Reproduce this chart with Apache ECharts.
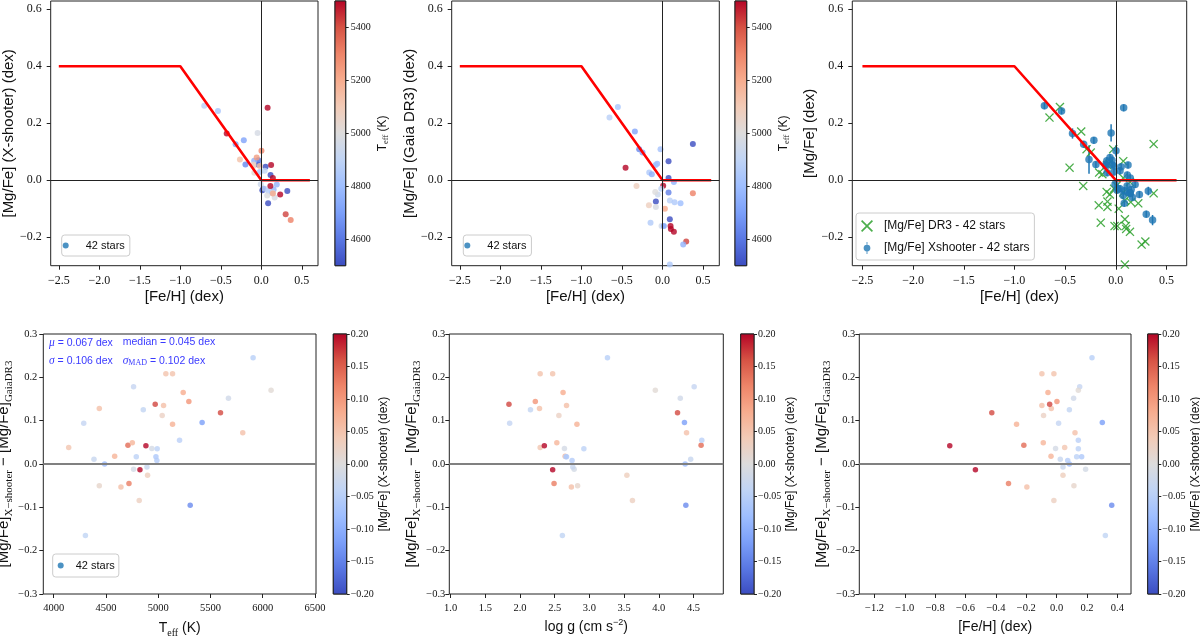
<!DOCTYPE html>
<html>
<head>
<meta charset="utf-8">
<script src="https://cdn.jsdelivr.net/npm/echarts@6/dist/echarts.min.js"></script>
<style>
html, body { margin: 0; padding: 0; background: #fff; }
#chart { width: 1200px; height: 638px; }
</style>
</head>
<body>
<div id="chart"></div>
<script>
// ---- values ----
// chemical-evolution trend drawn in red
const trendFeh = [-2.5, -1.0, 0.0, 0.6];
const trendMg = [0.4, 0.4, 0.0, 0.0];

// per star, X-shooter side (last star has no Gaia DR3 comparison)
const starTeff = [4143, 4287, 4303, 4385, 4436, 4436, 4487, 4583, 4643, 4710, 4720, 4752, 4764, 4764, 4790, 4818, 4825, 4857, 4882, 4892, 4898,
    4939, 4971, 4978, 4987, 4990, 5038, 5051, 5073, 5137, 5137, 5204, 5239, 5293, 5306, 5420, 5596, 5672, 5809, 5908, 6080, 5550];
const starLogg = [2.29, 1.85, 2.61, 4.46, 2.28, 2.83, 4.38, 2.65, 2.74, 4.61, 2.49, 2.53, 4.51, 2.78, 2.66, 3.62, 2.47, 2.15, 2.35, 2.76, 3.54,
    2.64, 1.84, 2.67, 2.75, 2.92, 2.56, 2.67, 2.29, 2.47, 2.82, 4.62, 2.62, 2.22, 4.39, 4.37, 4.27, 4.31, 4.40, 3.26, 3.95, null];
const starFeh = [0.053, 0.013, 0.321, 0.024, -0.035, 0.114, 0.084, -0.037, -0.196, -0.216, -0.317, -0.088, 0.152, 0.191, 0.132, -0.018, -0.535,
    0.084, -0.704, 0.042, 0.042, -0.007, -0.046, 0.165, 0.073, 0.143, -0.086, -0.097, -0.097, -0.018, -0.264, 0.143, -0.057, 0.002, 0.363,
    0.301, -0.427, 0.112, 0.121, 0.233, 0.143, 0.078];
const starMgFe = [0.047, -0.035, -0.038, -0.030, 0.054, 0.018, -0.081, 0.070, 0.055, 0.140, 0.126, 0.068, -0.033, -0.015, -0.044, 0.029, 0.243,
    -0.037, 0.261, -0.030, 0.033, -0.014, 0.166, -0.061, -0.054, -0.044, 0.026, 0.055, 0.050, 0.050, 0.073, -0.047, 0.080, 0.103, -0.140,
    -0.119, 0.164, -0.020, 0.053, -0.050, 0.008, 0.254];
const starErr = [0.012, 0.012, 0.015, 0.012, 0.012, 0.012, 0.012, 0.012, 0.012, 0.012, 0.012, 0.012, 0.012, 0.012, 0.012, 0.012, 0.012,
    0.012, 0.012, 0.012, 0.012, 0.012, 0.030, 0.012, 0.012, 0.012, 0.012, 0.012, 0.012, 0.012, 0.050, 0.012, 0.012, 0.020, 0.018,
    0.012, 0.018, 0.012, 0.012, 0.012, 0.012, 0.012];
// [Mg/Fe] X-shooter - [Mg/Fe] Gaia DR3
const starDiff = [0.038, 0.094, -0.165, 0.011, 0.128, -0.050, 0.000, 0.018, -0.053, 0.043, -0.045, 0.049, 0.178, -0.012, 0.017, -0.084, -0.013,
    0.125, 0.042, -0.007, -0.026, 0.036, 0.138, 0.017, 0.008, 0.035, 0.112, 0.135, 0.208, 0.208, 0.092, 0.055, 0.165, 0.144, -0.095,
    0.096, 0.118, 0.152, 0.072, 0.245, 0.170, null];

// Gaia DR3 side (top middle panel)
const dr3Feh = [-0.654, -0.551, -0.341, -0.288, -0.247, -0.456, -0.025, -0.066, -0.086, -0.164, -0.132, 0.074, 0.074, 0.374, 0.008, 0.140,
    -0.321, -0.016, -0.058, -0.090, 0.074, -0.082, 0.090, 0.148, 0.222, -0.168, -0.082, 0.029, 0.374, -0.148, -0.012, 0.016, 0.090,
    0.099, 0.103, 0.140, 0.292, 0.255, 0.090];
const dr3Mg = [0.220, 0.257, 0.171, 0.109, 0.097, 0.044, 0.109, 0.058, 0.053, 0.027, 0.021, 0.067, 0.008, 0.127, -0.019, -0.006, -0.020,
    -0.030, -0.050, -0.041, -0.043, -0.075, -0.071, -0.077, -0.081, -0.088, -0.094, -0.100, -0.046, -0.149, -0.161, -0.161, -0.137,
    -0.161, -0.171, -0.181, -0.215, -0.226, -0.296];
const dr3Teff = [4880, 4830, 4720, 4640, 4710, 5600, 4820, 4780, 4800, 4850, 4750, 4436, 4143, 4303, 5809, 4764, 5080, 4892, 4939, 5000,
    4620, 4436, 4880, 4850, 4800, 5080, 4980, 5204, 5306, 4860, 4950, 4700, 4287, 6080, 5672, 5600, 5420, 4764, 4850];

// summary statistics printed in the lower left panel
const statMu = 0.067, statMedian = 0.045, statSigma = 0.106, statMad = 0.102;

const SERIF = "'Liberation Serif', serif";
const SANS = "'Liberation Sans', sans-serif";
const CMAP = ['#3b4cc0', '#5977e3', '#7b9ff9', '#9ebeff', '#c0d4f5', '#dddcdc', '#f2cbb7', '#f7ac8e', '#ee8468', '#d65244', '#b40426'];
const STOPS = CMAP.map((c, i) => ({ offset: i / 10, color: c }));
const XPATH = 'path://M1,0L5,4L9,0L10,1L6,5L10,9L9,10L5,6L1,10L0,9L4,5L0,1Z';
const EBPATH = 'path://M4.4,0L5.6,0L5.6,16L4.4,16Z M0.5,8A4.5,4.5 0 1,1 9.5,8A4.5,4.5 0 1,1 0.5,8Z';

function fmt(d) {
    return function (v) {
        if (Math.abs(v) < 1e-9) v = 0;
        return (v < 0 ? '\u2212' : '') + Math.abs(v).toFixed(d);
    };
}

function axis(o) {
    return {
        type: 'value', gridIndex: o.grid, min: o.min, max: o.max, splitNumber: o.split,
        position: o.position,
        axisLine: { show: false, onZero: false },
        splitLine: { show: false },
        axisTick: { show: true, inside: false, length: o.tick || 4, lineStyle: { color: '#222', width: 1 } },
        axisLabel: {
            fontFamily: SERIF, fontSize: o.size || 12, color: '#111', margin: o.margin || 6,
            formatter: fmt(o.dec), showMinLabel: !!o.ends, showMaxLabel: !!o.ends
        },
        name: o.name || '', nameLocation: 'middle', nameGap: o.gap || 20, nameRotate: o.rotate || 0,
        nameTextStyle: { fontFamily: SANS, fontSize: o.nameSize || 15, color: '#111', rich: o.rich || {} }
    };
}

function hidden(gi) {
    return { type: 'value', gridIndex: gi, min: 0, max: 1, show: false };
}

const subRich = (main, sub) => ({
    a: { fontFamily: SANS, fontSize: main, lineHeight: main + 5, color: '#111' },
    s: { fontFamily: SERIF, fontSize: sub, lineHeight: sub, verticalAlign: 'bottom', color: '#111' },
    p: { fontFamily: SANS, fontSize: sub, lineHeight: sub, verticalAlign: 'top', color: '#111' }
});

const teffName = '{a|T}{s|eff}{a| (K)}';
const diffName = '{a|[Mg/Fe]}{s|X\u2212shooter}{a| \u2212 [Mg/Fe]}{s|GaiaDR3}';

const gridBox = [
    [50.7, 1, 267.3, 264.7], [335, 1, 10.7, 264.7],
    [451.7, 1, 267.6, 264.7], [735, 1, 11.7, 264.7],
    [852.3, 1, 334.4, 264.7],
    [43.3, 334, 272.7, 260], [333.3, 334, 13.4, 260],
    [449.3, 334, 274, 260], [740.7, 334, 13.3, 260],
    [859.3, 334, 271.7, 260], [1147.7, 334, 10.6, 260]
];
const grids = gridBox.map(b => ({
    left: b[0], top: b[1], width: b[2], height: b[3], show: true,
    borderColor: '#222', borderWidth: 1, backgroundColor: 'transparent',
    containLabel: false, outerBoundsMode: 'none'
}));

const topX = gi => axis({ grid: gi, min: -2.6, max: 0.7, split: 7, dec: 1, size: 12, margin: 9, name: '[Fe/H] (dex)', gap: 24 });
const topY = (gi, name, gap) => axis({ grid: gi, min: -0.3, max: 0.629, split: 5, dec: 1, size: 12, margin: 9, name: name, gap: gap, rotate: 90 });
const teffBar = (gi, gap) => axis({
    grid: gi, position: 'right', min: 4500, max: 5500, split: 5, dec: 0, size: 10, tick: 3, margin: 5,
    name: teffName, rich: subRich(12, 8.5), gap: gap, rotate: 90
});
const botY = (gi, gap, margin) => axis({ grid: gi, min: -0.3, max: 0.3, split: 6, dec: 1, size: 10.5, margin: margin, ends: true, name: diffName, rich: subRich(15, 11), gap: gap, rotate: 90 });
const mgBar = (gi, gap) => axis({
    grid: gi, position: 'right', min: -0.2, max: 0.2, split: 8, dec: 2, size: 10, tick: 3, margin: 4, ends: true,
    name: '[Mg/Fe] (X-shooter) (dex)', nameSize: 12, gap: gap, rotate: 90
});

const xAxes = [
    topX(0), hidden(1), topX(2), hidden(3), topX(4),
    axis({ grid: 5, min: 3900, max: 6510, split: 5, dec: 0, size: 10.5, margin: 9, name: teffName, rich: subRich(14, 10), gap: 25 }),
    hidden(6),
    axis({ grid: 7, min: 0.98, max: 4.93, split: 8, dec: 1, size: 10.5, margin: 9, name: '{a|log g (cm s}{p|\u22122}{a|)}', rich: subRich(14, 9), gap: 24 }),
    hidden(8),
    axis({ grid: 9, min: -1.3, max: 0.49, split: 9, dec: 1, size: 10.5, margin: 9, name: '[Fe/H] (dex)', nameSize: 14, gap: 26 }),
    hidden(10)
];
const yAxes = [
    topY(0, '[Mg/Fe] (X-shooter) (dex)', 31), teffBar(1, 28),
    topY(2, '[Mg/Fe] (Gaia DR3) (dex)', 33), teffBar(3, 28),
    topY(4, '[Mg/Fe] (dex)', 32),
    botY(5, 19, 6), mgBar(6, 25),
    botY(7, 22, 4), mgBar(8, 26),
    botY(9, 24, 4), mgBar(10, 29)
];

function trend(ai) {
    return {
        type: 'line', xAxisIndex: ai, yAxisIndex: ai, silent: true, showSymbol: false,
        data: trendFeh.map((x, i) => [x, trendMg[i]]),
        lineStyle: { color: '#ff0000', width: 2.6 },
        markLine: {
            silent: true, symbol: ['none', 'none'], label: { show: false },
            lineStyle: { color: '#222', width: 1, type: 'solid' },
            data: [{ xAxis: 0 }, { yAxis: 0 }]
        }
    };
}

function zeroLine(ai) {
    return {
        type: 'line', xAxisIndex: ai, yAxisIndex: ai, silent: true, data: [],
        markLine: {
            silent: true, symbol: ['none', 'none'], label: { show: false },
            lineStyle: { color: '#808080', width: 1.8, type: 'solid' },
            data: [{ yAxis: 0 }]
        }
    };
}

function colorbar(ai, lo, hi) {
    return {
        type: 'custom', xAxisIndex: ai, yAxisIndex: ai, silent: true, data: [[0, lo]],
        renderItem: function (params, api) {
            const a = api.coord([0, hi]);
            const b = api.coord([1, lo]);
            return {
                type: 'rect',
                shape: { x: a[0], y: a[1], width: b[0] - a[0], height: b[1] - a[1] },
                style: { fill: new echarts.graphic.LinearGradient(0, 1, 0, 0, STOPS), stroke: '#222', lineWidth: 1 }
            };
        }
    };
}

const withDiff = [];
starDiff.forEach((d, i) => { if (d !== null) withDiff.push(i); });

const series = [];
series.push(trend(0));
const sA = series.push({
    type: 'scatter', name: '42 stars', xAxisIndex: 0, yAxisIndex: 0, symbolSize: 6,
    itemStyle: { color: '#1f77b4' },
    data: starFeh.map((f, i) => [f, starMgFe[i], starTeff[i]])
}) - 1;
series.push(colorbar(1, 4500, 5500));

series.push(trend(2));
const sB = series.push({
    type: 'scatter', name: '42 stars', xAxisIndex: 2, yAxisIndex: 2, symbolSize: 6,
    itemStyle: { color: '#1f77b4' },
    data: dr3Feh.map((f, i) => [f, dr3Mg[i], dr3Teff[i]])
}) - 1;
series.push(colorbar(3, 4500, 5500));

series.push(trend(4));
series.push({
    type: 'scatter', name: '[Mg/Fe] DR3 - 42 stars', xAxisIndex: 4, yAxisIndex: 4,
    symbol: XPATH, symbolSize: 9, itemStyle: { color: '#2ca02c', opacity: 0.85 },
    data: dr3Feh.map((f, i) => [f, dr3Mg[i]])
});
series.push({
    type: 'custom', xAxisIndex: 4, yAxisIndex: 4, silent: true,
    data: starFeh.map((f, i) => [f, starMgFe[i], starErr[i]]),
    encode: { x: 0, y: 1 },
    renderItem: function (params, api) {
        const x = api.value(0), y = api.value(1), e = api.value(2);
        const lo = api.coord([x, y - e]);
        const hi = api.coord([x, y + e]);
        return { type: 'line', shape: { x1: lo[0], y1: lo[1], x2: hi[0], y2: hi[1] }, style: { stroke: '#1f77b4', lineWidth: 1.5 } };
    }
});
series.push({
    type: 'scatter', name: '[Mg/Fe] Xshooter - 42 stars', xAxisIndex: 4, yAxisIndex: 4,
    symbolSize: 7.5, itemStyle: { color: '#1f77b4' },
    data: starFeh.map((f, i) => [f, starMgFe[i]])
});

series.push(zeroLine(5));
const sD = series.push({
    type: 'scatter', name: '42 stars', xAxisIndex: 5, yAxisIndex: 5, symbolSize: 5.5,
    itemStyle: { color: '#1f77b4' },
    data: withDiff.map(i => [starTeff[i], starDiff[i], starMgFe[i]])
}) - 1;
series.push(colorbar(6, -0.2, 0.2));

series.push(zeroLine(7));
const sE = series.push({
    type: 'scatter', name: 'logg', xAxisIndex: 7, yAxisIndex: 7, symbolSize: 5.5,
    data: withDiff.map(i => [starLogg[i], starDiff[i], starMgFe[i]])
}) - 1;
series.push(colorbar(8, -0.2, 0.2));

series.push(zeroLine(9));
const sF = series.push({
    type: 'scatter', name: 'feh', xAxisIndex: 9, yAxisIndex: 9, symbolSize: 5.5,
    data: withDiff.map(i => [starFeh[i], starDiff[i], starMgFe[i]])
}) - 1;
series.push(colorbar(10, -0.2, 0.2));

const legendBase = {
    orient: 'vertical', selectedMode: false, borderColor: '#cccccc', borderWidth: 1, borderRadius: 3,
    backgroundColor: 'rgba(255,255,255,0.85)',
    textStyle: { fontFamily: SANS, fontSize: 11, color: '#111' }
};
const starsItem = { name: '42 stars', icon: 'circle', itemStyle: { color: '#1f77b4' } };

const statStyle = {
    a: { fontFamily: SANS, fontSize: 10.5, fill: '#3a3aff' },
    m: { fontFamily: SERIF, fontSize: 11.5, fontStyle: 'italic', fill: '#3a3aff' },
    s: { fontFamily: SERIF, fontSize: 8, fill: '#3a3aff', verticalAlign: 'bottom', lineHeight: 8 }
};
function statText(left, top, text) {
    return { type: 'text', left: left, top: top, silent: true, style: { text: text, rich: statStyle } };
}

const chart = echarts.init(document.getElementById('chart'), null, { renderer: 'canvas' });
chart.setOption({
    animation: false,
    backgroundColor: '#ffffff',
    grid: grids,
    xAxis: xAxes,
    yAxis: yAxes,
    visualMap: [
        { type: 'continuous', show: false, seriesIndex: sA, dimension: 2, min: 4500, max: 5500, inRange: { color: CMAP } },
        { type: 'continuous', show: false, seriesIndex: sB, dimension: 2, min: 4500, max: 5500, inRange: { color: CMAP } },
        { type: 'continuous', show: false, seriesIndex: [sD, sE, sF], dimension: 2, min: -0.2, max: 0.2, inRange: { color: CMAP } }
    ],
    legend: [
        Object.assign({}, legendBase, { data: [starsItem], left: 61.7, top: 235, padding: [5, 5, 5, 1], itemWidth: 30, itemHeight: 6 }),
        Object.assign({}, legendBase, { data: [starsItem], left: 463.3, top: 235, padding: [5, 5, 5, 1], itemWidth: 30, itemHeight: 6 }),
        Object.assign({}, legendBase, {
            data: [
                { name: '[Mg/Fe] DR3 - 42 stars', icon: XPATH, itemStyle: { color: '#2ca02c' } },
                { name: '[Mg/Fe] Xshooter - 42 stars', icon: EBPATH, itemStyle: { color: '#1f77b4' } }
            ],
            left: 856, top: 213, padding: [7, 5, 6, 5], itemWidth: 24, itemHeight: 12, itemGap: 10,
            textStyle: { fontFamily: SANS, fontSize: 12, color: '#111' }
        }),
        Object.assign({}, legendBase, { data: [starsItem], left: 52.7, top: 554, padding: [6, 4, 6, 5], itemWidth: 20, itemHeight: 6 })
    ],
    graphic: [
        statText(49, 337, '{m|\u03bc}{a| = ' + statMu.toFixed(3) + ' dex}'),
        statText(122.7, 337, '{a|median = ' + statMedian.toFixed(3) + ' dex}'),
        statText(49, 355, '{m|\u03c3}{a| = ' + statSigma.toFixed(3) + ' dex}'),
        statText(122.7, 355, '{m|\u03c3}{s|MAD}{a| = ' + statMad.toFixed(3) + ' dex}')
    ],
    series: series
});
</script>
</body>
</html>
